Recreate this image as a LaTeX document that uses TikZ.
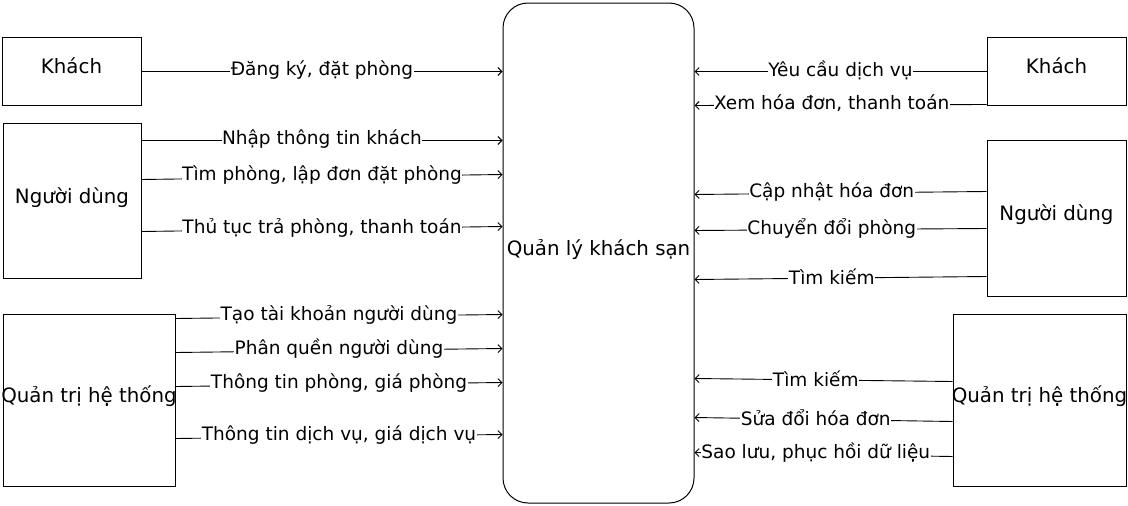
\documentclass[tikz,border=0pt]{standalone}
\usepackage{fontspec}
\setmainfont{DejaVu Sans}
\usetikzlibrary{positioning, arrows.meta}

\tikzset{
    entity/.style={draw, line width=1pt, inner sep=0pt, font=\fontsize{19.8}{22}\selectfont, text height=16pt, text depth=11pt},
    process/.style={entity, rounded corners=25pt, minimum width=191pt, minimum height=500pt},
    flow/.style={->, line width=0.9pt},
    lbl/.style={midway, fill=white, inner sep=0.5pt, yshift=1.5pt}
}

\begin{document}
\begin{tikzpicture}[x=1pt, y=-1pt, >={Straight Barb[length=4pt, width=8pt]}, font=\fontsize{18.5}{21}\selectfont]
        \useasboundingbox (0,0) rectangle (1128,506);

        % Process
        \node[process] (ql) at (598.5,253) {Quản lý khách sạn};

        % Left side
        \node[entity, minimum width=139pt, minimum height=68pt] (khachL) at (71.5,71) {Khách};
        \node[entity, minimum width=138pt, minimum height=155pt] (userL) at (72,200.5) {Người dùng};
        \node[entity, minimum width=172pt, minimum height=172pt] (adminL) at (89,400) {\makebox[0pt]{Quản trị hệ thống}};

        % Right side
        \node[entity, minimum width=139pt, minimum height=68pt] (khachR) at (1056.5,71) {Khách};
        \node[entity, minimum width=139pt, minimum height=156pt] (userR) at (1056.5,218) {Người dùng};
        \node[entity, minimum width=173pt, minimum height=172pt] (adminR) at (1039.5,400) {\makebox[0pt]{Quản trị hệ thống}};

        % Flows from the left
        \draw[flow] ([yshift=-35pt]khachL.north east) -- ([yshift=-69pt]ql.north west) node[lbl] {Đăng ký, đặt phòng};
        \draw[flow] ([yshift=-18pt]userL.north east) -- ([yshift=-138pt]ql.north west) node[lbl] {Nhập thông tin khách};
        \draw[flow] ([yshift=-57pt]userL.north east) -- ([yshift=-172pt]ql.north west) node[lbl] {Tìm phòng, lập đơn đặt phòng};
        \draw[flow] ([yshift=-109pt]userL.north east) -- ([yshift=-224pt]ql.north west) node[lbl] {Thủ tục trả phòng, thanh toán};
        \draw[flow] ([yshift=-5pt]adminL.north east) -- ([yshift=-312pt]ql.north west) node[lbl] {Tạo tài khoản người dùng};
        \draw[flow] ([yshift=-39pt]adminL.north east) -- ([yshift=-346pt]ql.north west) node[lbl] {Phân quền người dùng};
        \draw[flow] ([yshift=-73pt]adminL.north east) -- ([yshift=-380pt]ql.north west) node[lbl] {Thông tin phòng, giá phòng};
        \draw[flow] ([yshift=-125pt]adminL.north east) -- ([yshift=-432pt]ql.north west) node[lbl] {Thông tin dịch vụ, giá dịch vụ};

        % Flows from the right
        \draw[flow] ([yshift=-35pt]khachR.north west) -- ([yshift=-69pt]ql.north east) node[lbl] {Yêu cầu dịch vụ};
        \draw[flow] ([yshift=-68pt]khachR.north west) -- ([yshift=-103pt]ql.north east) node[lbl, pos=0.53] {Xem hóa đơn, thanh toán};
        \draw[flow] ([yshift=-52pt]userR.north west) -- ([yshift=-192pt]ql.north east) node[lbl, pos=0.53] {Cập nhật hóa đơn};
        \draw[flow] ([yshift=-89pt]userR.north west) -- ([yshift=-228pt]ql.north east) node[lbl, pos=0.53] {Chuyển đổi phòng};
        \draw[flow] ([yshift=-137pt]userR.north west) -- ([yshift=-277pt]ql.north east) node[lbl, pos=0.53] {Tìm kiếm};
        \draw[flow] ([yshift=-68pt]adminR.north west) -- ([yshift=-376pt]ql.north east) node[lbl, pos=0.53] {Tìm kiếm};
        \draw[flow] ([yshift=-108pt]adminR.north west) -- ([yshift=-415pt]ql.north east) node[lbl, pos=0.53] {Sửa đổi hóa đơn};
        \draw[flow] ([yshift=-143pt]adminR.north west) -- ([yshift=-450pt]ql.north east) node[lbl, pos=0.53] {Sao lưu, phục hồi dữ liệu};
    \end{tikzpicture}
\end{document}
